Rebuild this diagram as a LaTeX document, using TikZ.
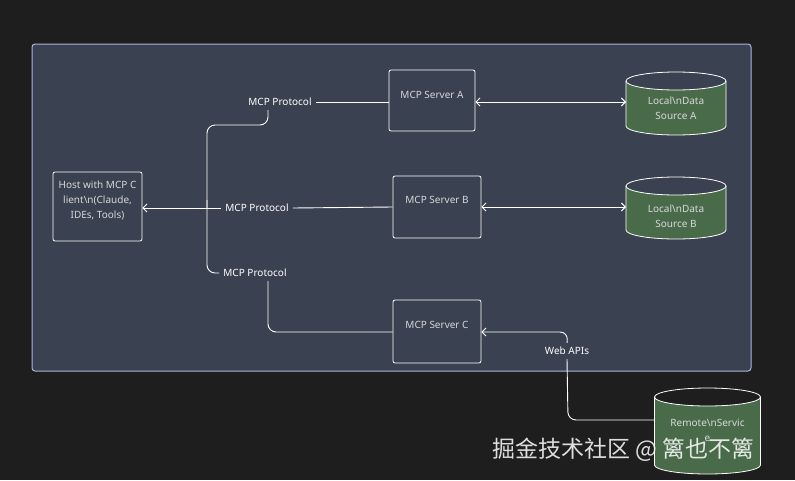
\documentclass[tikz,border=0pt]{standalone}
\usepackage{fontspec}
\setmainfont{Noto Sans}
\newfontfamily\cjk{Noto Sans CJK SC}
\usetikzlibrary{arrows.meta}
\definecolor{bg}{RGB}{30,30,30}
\definecolor{panel}{RGB}{58,65,80}
\definecolor{panelb}{RGB}{170,180,225}
\definecolor{cyl}{RGB}{74,107,74}
\definecolor{txt}{RGB}{215,215,220}
\newcommand\mycyl[5]{% name, cx, top, halfwidth, height
 \fill[cyl] (#2-#4,#3) -- (#2-#4,#3+#5) arc[start angle=180,end angle=360,x radius=#4,y radius=-9] -- (#2+#4,#3) arc[start angle=0,end angle=180,x radius=#4,y radius=9];
 \draw[white,line width=0.8pt] (#2-#4,#3) -- (#2-#4,#3+#5) arc[start angle=180,end angle=360,x radius=#4,y radius=-9] -- (#2+#4,#3);
 \draw[white,line width=0.8pt] (#2,#3) ellipse[x radius=#4,y radius=9];
 \coordinate (#1) at (#2-#4,#3+#5/2);}
\tikzset{
 box/.style={draw=white,rounded corners=2pt,line width=0.8pt},
 btxt/.style={text=txt,font=\fontsize{10}{15}\selectfont,align=center,inner sep=0pt},
 lbl/.style={text=white,font=\fontsize{10}{11}\selectfont,inner sep=4pt},
 con/.style={draw=white,line width=0.9pt,rounded corners=8pt},
 arr/.style={con,-{Straight Barb[length=4pt,width=8pt]}},
 barr/.style={con,{Straight Barb[length=4pt,width=8pt]}-{Straight Barb[length=4pt,width=8pt]}}
}
\begin{document}
\begin{tikzpicture}[x=1pt,y=-1pt]
\fill[bg] (0,0) rectangle (795,480);
\useasboundingbox (0,0) rectangle (795,480);
\draw[panelb,fill=panel,line width=1pt,rounded corners=3pt] (32,44) rectangle (751,371);
\node[box,minimum width=89,minimum height=69] (host) at (97.5,206.5) {};
\node[btxt] at (97.5,200) {Host with MCP C\\lient\textbackslash n(Claude,\\IDEs, Tools)};
\node[box,minimum width=86,minimum height=61] (sa) at (432,100.5) {};
\node[btxt] at (432,95) {MCP Server A};
\node[box,minimum width=88,minimum height=62] (sb) at (437,207) {};
\node[btxt] at (437,200) {MCP Server B};
\node[box,minimum width=88,minimum height=63] (sc) at (437,331.5) {};
\node[btxt] at (437,325) {MCP Server C};
\mycyl{da}{676}{81}{50}{45}
\node[btxt] at (676,108) {Local\textbackslash nData\\Source A};
\mycyl{dbb}{676}{186}{50}{44}
\node[btxt] at (676,216) {Local\textbackslash nData\\Source B};
\mycyl{dr}{707.5}{397}{53}{68}
\node[btxt] at (707.5,430) {Remote\textbackslash nServic\\e};
\node[lbl] (pa) at (280,102) {MCP Protocol};
\node[lbl] (pb) at (257,208) {MCP Protocol};
\node[lbl] (pc) at (255,273) {MCP Protocol};
\node[lbl] (web) at (567,351) {Web APIs};
% connectors
\draw[con] (pa.east) -- (sa.west|-pa.east);
\draw[con] (pb.east) -- (sb.west);
\draw[con] (pc.south-|268,0) -- (268,332) -- (sc.west|-0,332);
\draw[arr] (pb.west) -- (host.east|-pb.west);
\draw[con] (pa.south-|268,0) -- (268,125) -- (207,125) -- (207,208);
\draw[con] (207,200) -- (207,273) -- (pc.west);
\draw[barr] (sa.east|-0,102) -- (da|-0,102);
\draw[barr] (sb.east) -- (dbb|-sb.east);
\draw[con] (dr|-0,420) -- (568,420) -- (web.south);
\draw[arr] (web.north) -- (568,332) -- (sc.east|-0,332);
\node[text=white,opacity=0.85,font=\cjk\fontsize{23}{23}\selectfont,anchor=west,inner sep=0] at (492,450) {掘金技术社区 @ 篱也不篱};
\end{tikzpicture}
\end{document}
